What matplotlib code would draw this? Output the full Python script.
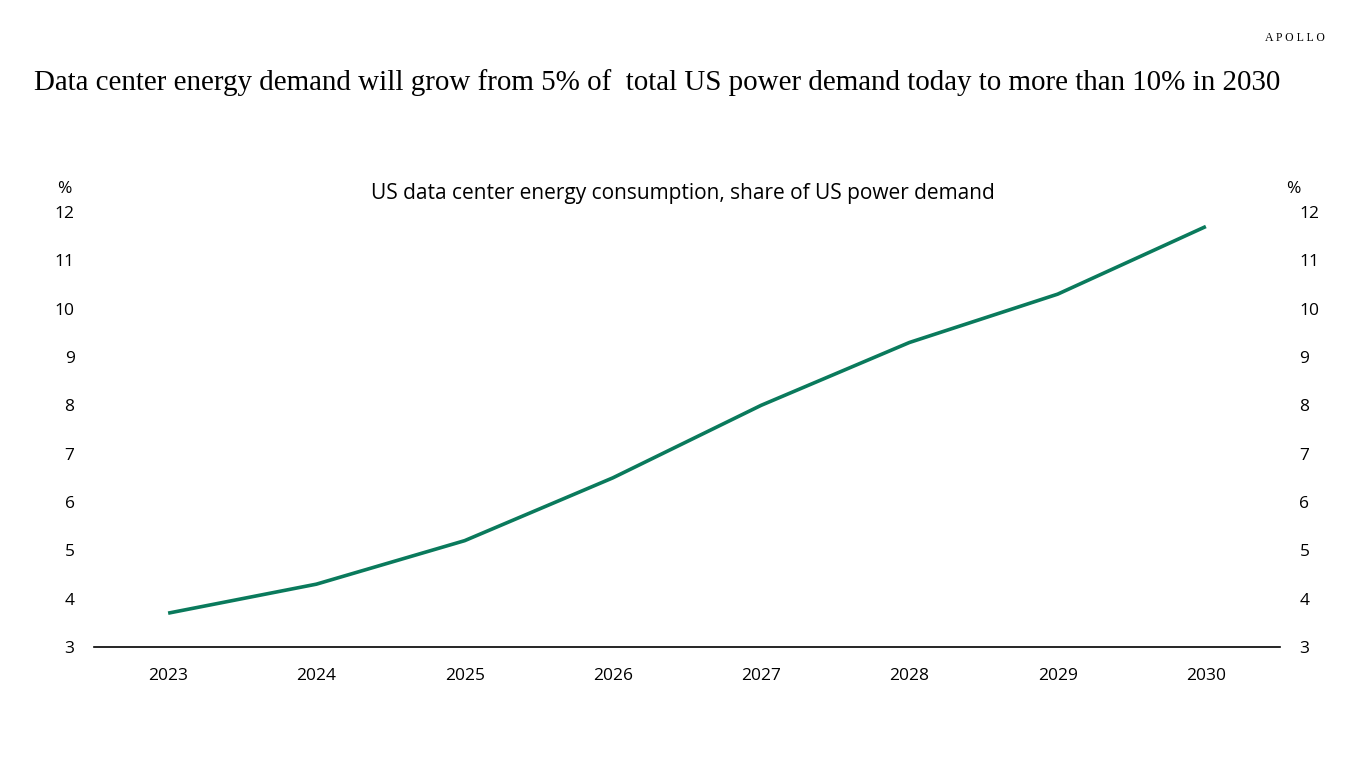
import matplotlib.pyplot as plt

# data
years = [2023, 2024, 2025, 2026, 2027, 2028, 2029, 2030]
share = [3.7, 4.3, 5.2, 6.5, 8.0, 9.3, 10.3, 11.7]
yticks = [3, 4, 5, 6, 7, 8, 9, 10, 11, 12]

plt.rcParams['font.family'] = ['Open Sans', 'DejaVu Sans']

fig = plt.figure(figsize=(13.66, 7.68), dpi=100)
ax = fig.add_axes([94 / 1366, 1 - 647 / 768, (1280 - 94) / 1366, (647 - 212) / 768])

ax.plot(years, share, color='#0a7a5c', lw=2.6, solid_capstyle='butt')

ax.set_xlim(2022.5, 2030.5)
ax.set_ylim(3, 12)
ax.set_xticks(years)
ax.set_yticks(yticks)
ax.tick_params(axis='both', length=0, labelsize=12.5, colors='black')
ax.tick_params(axis='x', pad=15)
ax.tick_params(axis='y', pad=14, labelleft=True, labelright=True)
for s in ['top', 'left', 'right']:
    ax.spines[s].set_visible(False)
ax.spines['bottom'].set_linewidth(1.2)
ax.spines['bottom'].set_color('black')

# right side labels read left aligned
for t in ax.yaxis.get_major_ticks():
    t.label2.set_horizontalalignment('left')

fig.text(57 / 1366, 1 - 189 / 768, '%', fontsize=12.5, ha='left', va='center')
fig.text(1286 / 1366, 1 - 189 / 768, '%', fontsize=12.5, ha='left', va='center')
fig.text(683 / 1366, 1 - 194 / 768, 'US data center energy consumption, share of US power demand',
         fontsize=15, ha='center', va='center')

fig.text(34 / 1366, 1 - 83 / 768,
         'Data center energy demand will grow from 5% of  total US power demand today to more than 10% in 2030',
         fontsize=20.9, ha='left', va='center', family=['Liberation Serif', 'DejaVu Serif'])
fig.text(1325 / 1366, 1 - 38 / 768, 'A P O L L O', fontsize=8.5, ha='right', va='center',
         family=['Liberation Serif', 'DejaVu Serif'])

fig.savefig('out.png', dpi=100)
